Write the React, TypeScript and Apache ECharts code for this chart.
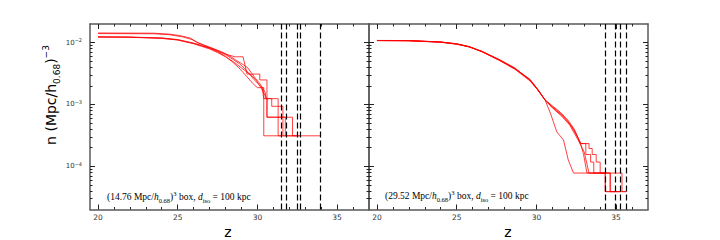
import React, { useEffect, useRef } from "react";
import * as echarts from "echarts";

// ---- axis ranges / ticks ----
const zRange = [19.5, 37];
const nRange = [2e-5, 2e-2];
const xMajorTicks = [20, 25, 30, 35];
const xMinorTicks = [21, 22, 23, 24, 26, 27, 28, 29, 31, 32, 33, 34, 36];
const yMajorTicks = [1e-4, 1e-3, 1e-2];
const yMinorTicks = [
  3e-5, 4e-5, 5e-5, 6e-5, 7e-5, 8e-5, 9e-5,
  2e-4, 3e-4, 4e-4, 5e-4, 6e-4, 7e-4, 8e-4, 9e-4,
  2e-3, 3e-3, 4e-3, 5e-3, 6e-3, 7e-3, 8e-3, 9e-3,
];

// ---- left panel: (14.76 Mpc/h)^3 box, [z, n] ----
const leftA = [[20, 0.01235], [22, 0.0123], [24, 0.0119], [25, 0.0112], [26, 0.0098], [26.5, 0.009], [27, 0.0081], [27.5, 0.0071], [28, 0.006], [28.5, 0.0047], [28.8, 0.004], [29.1, 0.0033], [29.4, 0.0027], [29.7, 0.0022], [30.0, 0.00187], [30.4, 0.00187], [30.4, 0.000311], [31.5, 0.000311]];
const leftB = [[20, 0.0124], [22, 0.01225], [24, 0.0118], [25, 0.0111], [26, 0.0097], [26.5, 0.0089], [27, 0.0082], [27.5, 0.0073], [28, 0.0064], [28.5, 0.0053], [28.9, 0.0045], [29.2, 0.0038], [29.5, 0.0031], [29.8, 0.0025], [30.1, 0.0021], [30.3, 0.00187], [30.4, 0.00124], [31.3, 0.00124], [31.3, 0.000311], [31.8, 0.000311]];
const leftC = [[20, 0.0123], [22, 0.0122], [24, 0.0117], [25, 0.011], [26, 0.0096], [26.5, 0.0087], [27, 0.0079], [27.5, 0.0069], [28, 0.0059], [28.5, 0.0049], [29.0, 0.0039], [29.3, 0.0034], [29.6, 0.003], [29.9, 0.0025], [30.2, 0.0019], [30.6, 0.00124], [30.6, 0.000622], [31.75, 0.000622], [31.75, 0.000311], [32.47, 0.000311]];
const leftD = [[20, 0.0143], [23.5, 0.0142], [24.5, 0.0137], [25.2, 0.0129], [25.8, 0.0118], [26.2, 0.0102], [26.7, 0.009], [27.2, 0.008], [27.7, 0.007], [28.2, 0.0063], [28.6, 0.0059], [29.1, 0.0059], [29.35, 0.0031], [30.15, 0.0031], [30.15, 0.00249], [30.6, 0.00249], [30.6, 0.000622], [32.2, 0.000622], [32.2, 0.000311], [32.7, 0.000311]];
const leftE = [[20, 0.014], [23.5, 0.0139], [24.5, 0.0134], [25.3, 0.0124], [25.9, 0.0112], [26.3, 0.0098], [26.8, 0.0088], [27.3, 0.0079], [27.8, 0.007], [28.3, 0.006], [28.7, 0.0051], [29.0, 0.0046], [29.4, 0.0039], [29.6, 0.0033], [29.9, 0.0026], [30.2, 0.0021], [30.5, 0.00155], [30.5, 0.00124], [30.9, 0.00124], [30.9, 0.000933], [31.6, 0.000933], [31.6, 0.000311], [33.93, 0.000311]];
const leftDashedZ = [31.5, 31.8, 32.47, 32.7, 33.93];

// ---- right panel: (29.52 Mpc/h)^3 box, [z, n] ----
const rightA = [[20, 0.0108], [22, 0.01075], [24, 0.0102], [25, 0.0095], [25.8, 0.0086], [26.6, 0.0071], [27.7, 0.0052], [28.65, 0.0038], [29.6, 0.0025], [30.1, 0.0017], [30.55, 0.00117], [30.9, 0.0007], [31.28, 0.00036], [31.7, 0.000266], [32.0, 0.000126], [32.33, 0.0000777], [34.32, 0.0000777], [34.32, 0.0000389], [35.27, 0.0000389]];
const rightB = [[20, 0.01085], [22, 0.0108], [24, 0.01025], [25, 0.0096], [25.8, 0.0085], [26.6, 0.0072], [27.7, 0.0053], [28.65, 0.0039], [29.6, 0.00245], [30.1, 0.0017], [30.55, 0.00118], [31.0, 0.0009], [31.5, 0.0007], [31.9, 0.00056], [32.3, 0.00041], [32.75, 0.00024], [32.95, 0.00016], [33.17, 0.0000777], [34.63, 0.0000777], [34.63, 0.0000389], [34.95, 0.0000389]];
const rightC = [[20, 0.0108], [22, 0.0107], [24, 0.0101], [25, 0.0094], [25.8, 0.0085], [26.6, 0.0071], [27.7, 0.0052], [28.65, 0.0038], [29.6, 0.0025], [30.1, 0.00175], [30.55, 0.00118], [31.0, 0.00095], [31.5, 0.00075], [32.0, 0.00055], [32.4, 0.00039], [32.75, 0.000233], [33.3, 0.000233], [33.3, 0.000194], [33.5, 0.000194], [33.5, 0.000155], [33.75, 0.000155], [33.75, 0.000117], [34.0, 0.000117], [34.0, 0.0000777], [35.37, 0.0000777], [35.37, 0.0000389], [35.64, 0.0000389]];
const rightD = [[20, 0.01078], [22, 0.01072], [24, 0.0102], [25, 0.0095], [25.8, 0.0085], [26.6, 0.0071], [27.7, 0.0051], [28.65, 0.0037], [29.6, 0.0024], [30.1, 0.0017], [30.55, 0.00117], [31.0, 0.00088], [31.6, 0.00064], [32.1, 0.00046], [32.6, 0.00027], [33.0, 0.00017], [33.3, 0.0000777], [34.32, 0.0000777], [34.32, 0.0000389], [35.64, 0.0000389]];
const rightE = [[20, 0.01082], [22, 0.01078], [24, 0.01022], [25, 0.0095], [25.8, 0.0086], [26.6, 0.0072], [27.7, 0.0052], [28.65, 0.0038], [29.6, 0.00255], [30.1, 0.00172], [30.55, 0.00117], [31.0, 0.00092], [31.5, 0.00072], [32.0, 0.00052], [32.5, 0.00033], [32.8, 0.000233], [33.1, 0.000233], [33.1, 0.000155], [33.4, 0.000155], [33.4, 0.000117], [33.6, 0.000117], [33.6, 0.0000777], [34.63, 0.0000777], [34.63, 0.0000389], [35.27, 0.0000389]];
const rightDashedZ = [34.32, 34.95, 35.27, 35.64];

const leftCurves = [leftA, leftB, leftC, leftD, leftE];
const rightCurves = [rightA, rightB, rightC, rightD, rightE];

const FRAME = "#5a5a5a";
const TICK = "#222";
const RED = "rgba(255,0,0,0.75)";
const SANS = "DejaVu Sans";
const SERIF = "Liberation Serif";

function xAxes(grid: number) {
  const base = {
    type: "value",
    gridIndex: grid,
    min: zRange[0],
    max: zRange[1],
    splitLine: { show: false },
  };
  const line = { show: true, lineStyle: { color: FRAME, width: 1.5 } };
  const major = { show: true, inside: true, length: 5, customValues: xMajorTicks, lineStyle: { color: TICK, width: 1 } };
  const minor = { show: true, inside: true, length: 2.5, customValues: xMinorTicks, lineStyle: { color: TICK, width: 1 } };
  return [
    {
      ...base, position: "bottom", axisLine: line, axisTick: major,
      axisLabel: { show: true, customValues: xMajorTicks, margin: 4, fontSize: 7.5, fontFamily: SANS, color: "#333" },
    },
    { ...base, position: "bottom", axisLine: { show: false }, axisTick: minor, axisLabel: { show: false } },
    { ...base, position: "top", axisLine: line, axisTick: major, axisLabel: { show: false } },
    { ...base, position: "top", axisLine: { show: false }, axisTick: minor, axisLabel: { show: false } },
  ];
}

function yAxes(grid: number, labels: boolean) {
  const base = {
    type: "log",
    logBase: 10,
    gridIndex: grid,
    min: nRange[0],
    max: nRange[1],
    splitLine: { show: false },
  };
  const line = { show: true, lineStyle: { color: FRAME, width: 1.5 } };
  const major = { show: true, inside: true, length: 5, customValues: yMajorTicks, lineStyle: { color: TICK, width: 1 } };
  const minor = { show: true, inside: true, length: 2.5, customValues: yMinorTicks, lineStyle: { color: TICK, width: 1 } };
  return [
    {
      ...base, position: "left", axisLine: line, axisTick: major,
      axisLabel: labels
        ? {
            show: true,
            customValues: yMajorTicks,
            margin: 8,
            formatter: (v: number) => `{b|10}{s|−${Math.abs(Math.round(Math.log10(v)))}}`,
            rich: {
              b: { fontSize: 7, fontFamily: SANS, color: "#333", lineHeight: 10 },
              s: { fontSize: 5, fontFamily: SANS, color: "#333", lineHeight: 5, verticalAlign: "top" },
            },
          }
        : { show: false },
    },
    { ...base, position: "left", axisLine: { show: false }, axisTick: minor, axisLabel: { show: false } },
    { ...base, position: "right", axisLine: line, axisTick: major, axisLabel: { show: false } },
    { ...base, position: "right", axisLine: { show: false }, axisTick: minor, axisLabel: { show: false } },
  ];
}

function curveSeries(curves: number[][][], axisIndex: number, dashed: number[]) {
  return curves.map((c, i) => ({
    type: "line",
    xAxisIndex: axisIndex,
    yAxisIndex: axisIndex,
    data: c,
    symbol: "none",
    showSymbol: false,
    silent: true,
    lineStyle: { color: RED, width: 1 },
    markLine:
      i === 0
        ? {
            silent: true,
            symbol: ["none", "none"],
            label: { show: false },
            lineStyle: { color: "#000", width: 1.2, type: [6, 3] },
            data: dashed.map((z) => ({ xAxis: z })),
          }
        : undefined,
  }));
}

function annotation(x: number, y: number, size: string) {
  const r = { fontSize: 9.5, fontFamily: SERIF, color: "#111" };
  const i = { fontSize: 9.5, fontFamily: SERIF, fontStyle: "italic", color: "#111" };
  return {
    type: "text",
    x,
    y,
    style: {
      text: `{r|(${size} Mpc/}{i|h}{sb|0.68}{r|)}{sp|3}{r| box, }{i|d}{sb|iso}{r| = 100 kpc}`,
      verticalAlign: "middle",
      rich: {
        r: { ...r, lineHeight: 14 },
        i: { ...i, lineHeight: 14 },
        sb: { ...r, fontSize: 6.5, lineHeight: 8, verticalAlign: "bottom" },
        sp: { ...r, fontSize: 6.5, lineHeight: 8, verticalAlign: "top" },
      },
    },
  };
}

export default function App() {
  const ref = useRef<HTMLDivElement>(null);
  useEffect(() => {
    if (!ref.current) return;
    const chart = echarts.init(ref.current, null, { renderer: "svg" });
    chart.setOption({
      animation: false,
      backgroundColor: "#fff",
      grid: [
        { left: 90, top: 24, width: 279, height: 185.5 },
        { left: 369, top: 24, width: 279, height: 185.5 },
      ],
      xAxis: [...xAxes(0), ...xAxes(1)],
      yAxis: [...yAxes(0, true), ...yAxes(1, false)],
      series: [...curveSeries(leftCurves, 0, leftDashedZ), ...curveSeries(rightCurves, 4, rightDashedZ)],
      graphic: [
        {
          type: "text",
          x: 51,
          y: 95,
          rotation: Math.PI / 2,
          style: {
            text: "{m|n (Mpc/h}{s|0.68}{m|)}{p|−3}",
            align: "center",
            verticalAlign: "middle",
            rich: {
              m: { fontSize: 14, fontFamily: SANS, color: "#000", lineHeight: 20 },
              s: { fontSize: 9, fontFamily: SANS, color: "#000", lineHeight: 9, verticalAlign: "bottom" },
              p: { fontSize: 9, fontFamily: SANS, color: "#000", lineHeight: 9, verticalAlign: "top" },
            },
          },
        },
        { type: "text", x: 228, y: 231.5, style: { text: "z", fontSize: 14, fontFamily: SANS, fill: "#000", align: "center", verticalAlign: "middle" } },
        { type: "text", x: 508, y: 231.5, style: { text: "z", fontSize: 14, fontFamily: SANS, fill: "#000", align: "center", verticalAlign: "middle" } },
        annotation(107, 196.5, "14.76"),
        annotation(385, 195.5, "29.52"),
      ],
    });
    return () => chart.dispose();
  }, []);
  return <div ref={ref} style={{ position: "fixed", left: 0, top: 0, width: 720, height: 240 }} />;
}
